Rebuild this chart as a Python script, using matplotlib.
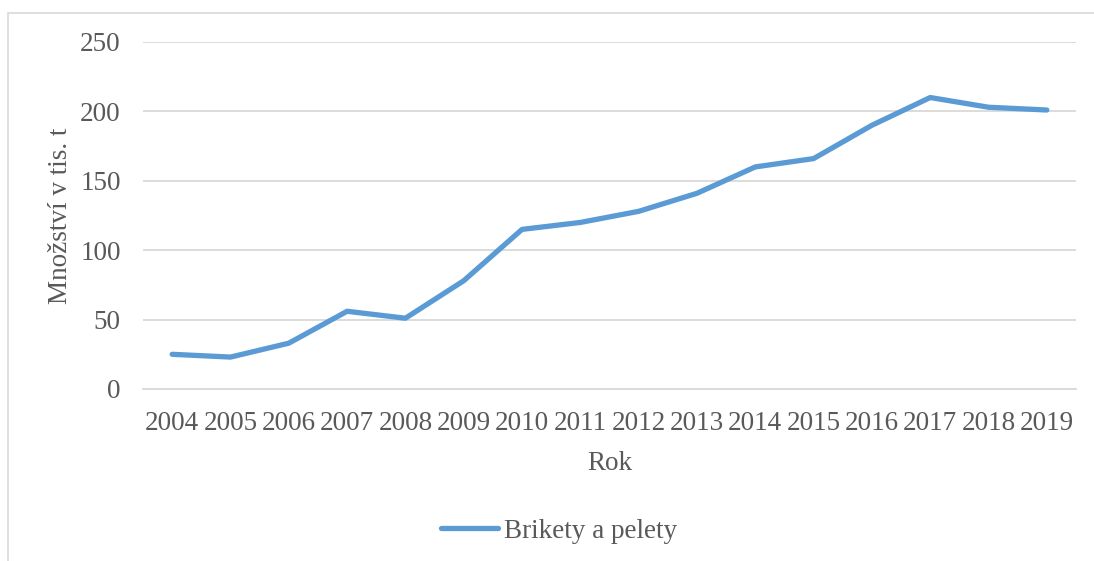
import matplotlib.pyplot as plt
from matplotlib.patches import Rectangle

years = [str(y) for y in range(2004, 2020)]
amount = [25, 23, 33, 56, 51, 78, 115, 120, 128, 141, 160, 166, 190, 210, 203, 201]
series_name = "Brikety a pelety"

text_col = "#595959"
grid_col = "#d9d9d9"
line_col = "#5b9bd5"
fs = 19.5

plt.rcParams["font.family"] = ["Liberation Serif", "DejaVu Serif"]

W, H = 1094, 561
fig = plt.figure(figsize=(W / 100, H / 100), dpi=100)
ax = fig.add_axes([143 / W, 1 - 389 / H, (1076 - 143) / W, (389 - 42) / H])

# outer chart frame (partly cut off like in the source)
fig.patches.append(Rectangle((8 / W, -0.05), 1.1, 1 - 13 / H + 0.05,
                             transform=fig.transFigure, fill=False,
                             edgecolor=grid_col, linewidth=1.2))

x = list(range(len(years)))
ax.plot(x, amount, color=line_col, linewidth=3.8, solid_capstyle="round",
        solid_joinstyle="round", label=series_name, zorder=3)

ax.set_xlim(-0.5, len(years) - 0.5)
ax.set_ylim(0, 250)
ax.set_yticks(range(0, 251, 50))
ax.set_xticks(x)
ax.set_xticklabels(years)
ax.yaxis.grid(True, color=grid_col, linewidth=1.3)
ax.set_axisbelow(True)
for s in ["top", "right", "left"]:
    ax.spines[s].set_visible(False)
ax.spines["bottom"].set_color(grid_col)
ax.spines["bottom"].set_linewidth(1.3)
ax.tick_params(length=0, labelsize=fs, colors=text_col)
ax.tick_params(axis="y", pad=16)
ax.tick_params(axis="x", pad=16)

ax.set_xlabel("Rok", fontsize=fs, color=text_col, labelpad=11)
ax.set_ylabel("Množství v tis. t", fontsize=fs, color=text_col, labelpad=5)

leg = fig.legend(loc="center", bbox_to_anchor=(559 / W, 1 - 531 / H),
                 frameon=False, fontsize=fs, handlelength=2.1,
                 handletextpad=0.2)
for t in leg.get_texts():
    t.set_color(text_col)

fig.savefig("out.png", dpi=100)
